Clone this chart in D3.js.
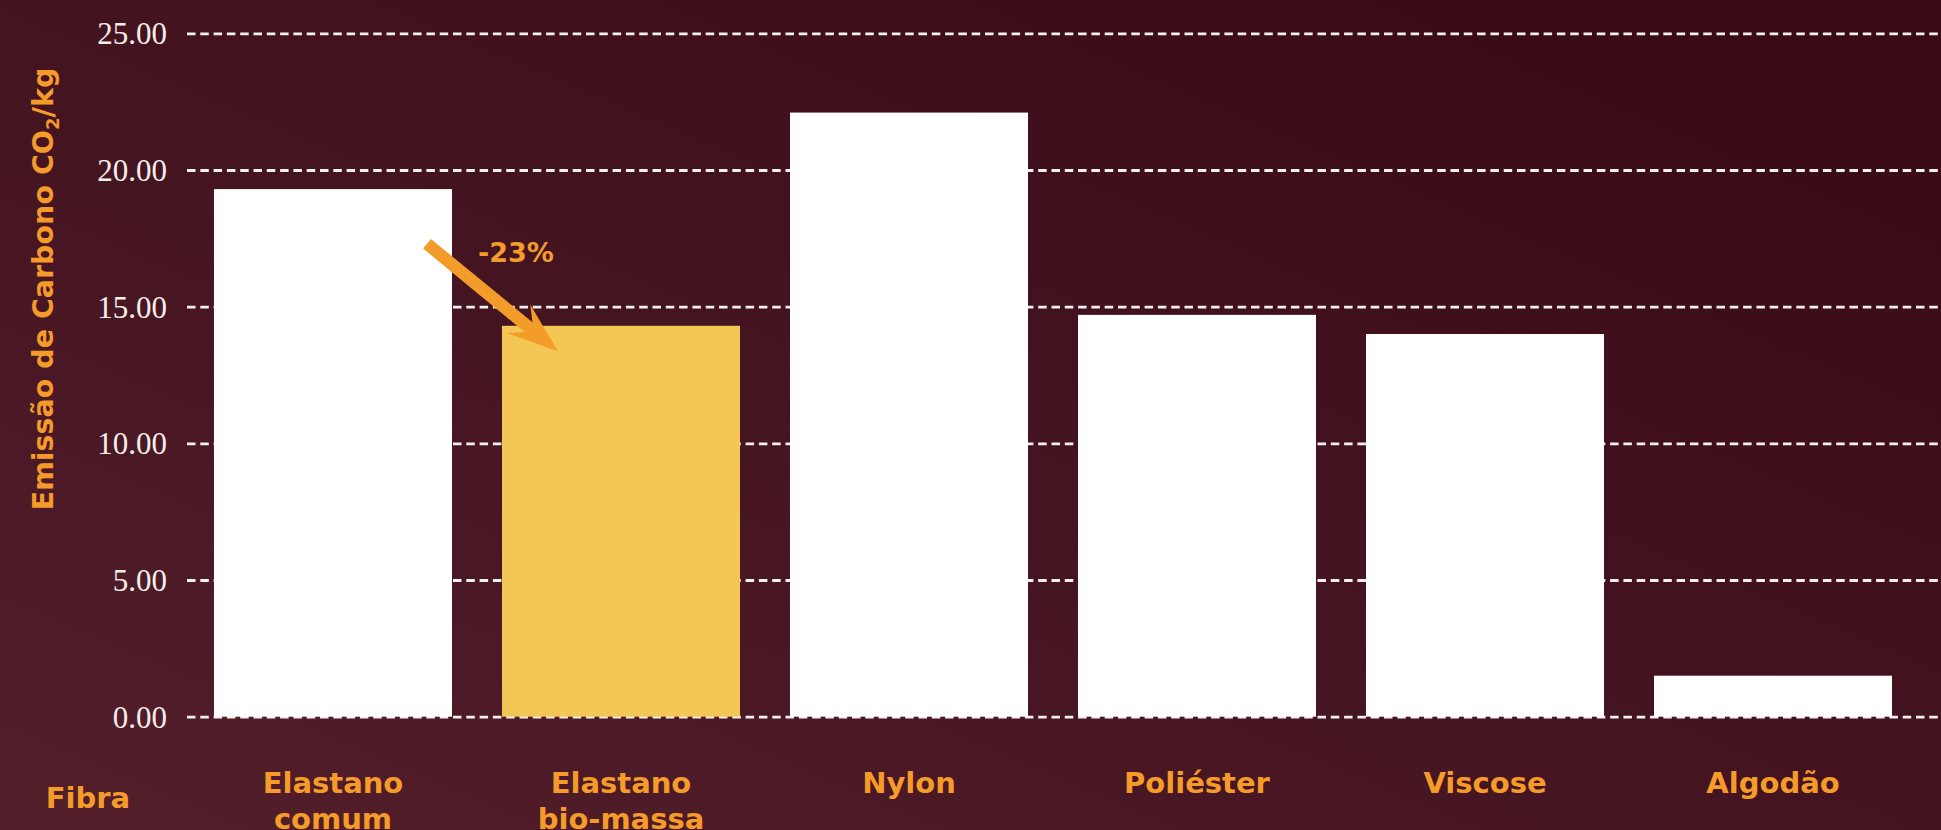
<!DOCTYPE html>
<html><head><meta charset="utf-8">
<script src="https://cdn.jsdelivr.net/npm/d3@7"></script>
<style>html,body{margin:0;padding:0;background:#420f1c;overflow:hidden}</style>
</head><body>
<svg id="chart" width="1941" height="830"></svg>
<script>
// ---- data ----
const categories = ["Elastano comum", "Elastano bio-massa", "Nylon", "Poliéster", "Viscose", "Algodão"];
const values = [19.3, 14.3, 22.1, 14.7, 14.0, 1.5];
const yTicks = [0, 5, 10, 15, 20, 25];
const highlighted = ["Elastano bio-massa"];
const yTitle = "Emissão de Carbono CO";
const xTitle = "Fibra";
const annotationText = "-23%";

// ---- layout ----
const W = 1941, H = 830;
const svg = d3.select("#chart");
const defs = svg.append("defs");
const bg = defs.append("linearGradient").attr("id", "bg")
  .attr("x1", "0%").attr("y1", "100%").attr("x2", "100%").attr("y2", "0%");
bg.append("stop").attr("offset", "0%").attr("stop-color", "#531f2b");
bg.append("stop").attr("offset", "45%").attr("stop-color", "#451421");
bg.append("stop").attr("offset", "100%").attr("stop-color", "#370a15");
svg.append("rect").attr("width", W).attr("height", H).attr("fill", "url(#bg)");

const x = d3.scaleBand().domain(categories).range([189, 189 + 6 * 288])
  .paddingInner(50 / 288).paddingOuter(25 / 288);
const y = d3.scaleLinear().domain([0, 25]).range([716.7, 33.3]);
const bw = x.bandwidth();

// gridlines + tick labels
const yAxis = d3.axisLeft(y).tickValues(yTicks).tickFormat(d3.format(".2f"))
  .tickSize(-(W - 187)).tickPadding(20);
const gy = svg.append("g").attr("transform", "translate(187,0)").call(yAxis);
gy.select(".domain").remove();
gy.selectAll(".tick line").attr("stroke", "#f6f0f0").attr("stroke-width", 2.8)
  .attr("stroke-dasharray", "8.5,4.8");
gy.selectAll(".tick text").attr("fill", "#f4eeee")
  .style("font-family", "'Liberation Serif', 'Times New Roman', serif")
  .style("font-size", "31px").attr("dy", "0.34em");

// bars
svg.append("g").selectAll("rect").data(categories).join("rect")
  .attr("x", d => x(d)).attr("width", bw)
  .attr("y", (d, i) => y(values[i]))
  .attr("height", (d, i) => y(0) - y(values[i]))
  .attr("fill", d => highlighted.includes(d) ? "#f4c653" : "#ffffff");

// x labels
const labelFont = "'DejaVu Sans', 'Open Sans', sans-serif";
const orange = "#f59b29";
const xl = svg.append("g").selectAll("text").data(categories).join("text")
  .attr("x", d => x(d) + bw / 2).attr("y", 793)
  .attr("text-anchor", "middle").attr("fill", orange)
  .style("font-family", labelFont).style("font-weight", "bold").style("font-size", "29px");
xl.each(function (d) {
  const parts = d.startsWith("Elastano") ? ["Elastano", d.slice(9)] : [d];
  d3.select(this).selectAll("tspan").data(parts).join("tspan")
    .attr("x", x(d) + bw / 2).attr("dy", (p, i) => i === 0 ? 0 : 36).text(p => p);
});

svg.append("text").attr("x", 88).attr("y", 808).attr("text-anchor", "middle")
  .attr("fill", orange).style("font-family", labelFont).style("font-weight", "bold")
  .style("font-size", "29px").text(xTitle);

// y title
const yt = svg.append("text")
  .attr("transform", `translate(53,${(y(0) + y(25)) / 2 - 86}) rotate(-90)`)
  .attr("text-anchor", "middle").attr("fill", orange)
  .style("font-family", labelFont).style("font-weight", "bold").style("font-size", "28.5px");
yt.append("tspan").text(yTitle);
yt.append("tspan").attr("dy", 6).style("font-size", "18px").text("2");
yt.append("tspan").attr("dy", -6).text("/kg");

// annotation arrow
const start = [x(categories[0]) + bw * 0.895, y(17.3)];
const tip = [x(categories[1]) + bw * 0.235, y(13.37)];
const dx = tip[0] - start[0], dy = tip[1] - start[1];
const L = Math.hypot(dx, dy), ang = Math.atan2(dy, dx) * 180 / Math.PI;
const hw = 6.2, join = 38, back = 51, bh = 18.5;
const pts = [[0, -hw], [L - join, -hw], [L - back, -bh], [L, 0], [L - back, bh], [L - join, hw], [0, hw]];
svg.append("polygon")
  .attr("points", pts.map(p => p.join(",")).join(" "))
  .attr("transform", `translate(${start[0]},${start[1]}) rotate(${ang})`)
  .attr("fill", "#f39c2a");

svg.append("text").attr("x", x(categories[1]) - 24).attr("y", y(16.63))
  .attr("fill", "#f39c2a").style("font-family", labelFont).style("font-weight", "bold")
  .style("font-size", "27px").text(annotationText);
</script>
</body></html>
